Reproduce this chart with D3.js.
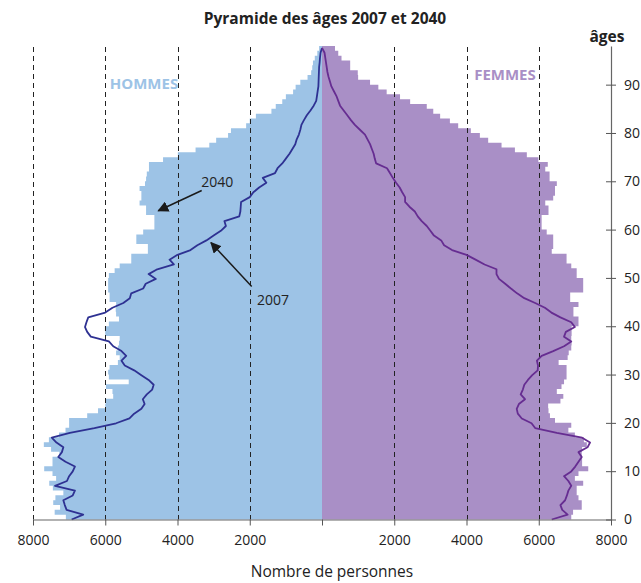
<!DOCTYPE html>
<html>
<head>
<meta charset="utf-8">
<script src="https://cdn.jsdelivr.net/npm/d3@7"></script>
<style>
    body { margin: 0; background: #fff; }
    text { font-family: "Open Sans", "DejaVu Sans", sans-serif; }
</style>
</head>
<body>
<div id="graph"></div>
<script>
// DATA (one value per age, from 0 upwards)
var hommes2040 = [7090, 7400, 7250, 7440, 7380, 7160, 7450, 7550, 7360, 7460,
    7690, 7460, 7460, 7270, 7500, 7700, 7560, 7280, 7100, 7000,
    7000, 6500, 6200, 6000, 5980, 5780, 5800, 5980, 5350, 5900,
    5920, 5880, 5650, 5600, 5700, 5650, 5620, 5600, 6000, 6010,
    5900, 5620, 5700, 5710, 5700, 5880, 5880, 5920, 5920, 5920,
    5900, 5740, 5600, 5280, 5280, 4820, 4820, 5140, 5140, 4950,
    4640, 4640, 4640, 4870, 4870, 5050, 5000, 5000, 5050, 4900,
    4870, 4850, 4790, 4790, 4400, 3990, 3500, 3120, 2930, 2600,
    2520, 2100, 2000, 1830, 1400, 1280, 1100, 1000, 800, 730,
    600, 400, 300, 270, 250, 200, 130, 80];

var femmes2040 = [6900, 6950, 7190, 7190, 7100, 7050, 7050, 7230, 7000, 7100,
    7370, 7200, 7200, 7190, 7200, 7330, 7250, 7000, 6820, 6900,
    6450, 6310, 6270, 6260, 6600, 6680, 6500, 6630, 6700, 6770,
    6770, 6770, 6550, 6800, 6830, 6900, 6910, 6900, 6910, 6910,
    7100, 7100, 6960, 6960, 7100, 6870, 6870, 7230, 7230, 7230,
    7050, 7050, 6900, 6770, 6770, 6360, 6400, 6400, 6400, 6220,
    6080, 6080, 6080, 6270, 6270, 6180, 6400, 6450, 6450, 6500,
    6300, 6300, 6180, 6250, 5990, 5670, 5340, 4970, 4600, 4370,
    4120, 3770, 3540, 3270, 3080, 2900, 2440, 2160, 1790, 1560,
    1330, 1000, 990, 780, 780, 540, 450, 360];

var hommes2007 = [6930, 6610, 7070, 7120, 7160, 6900, 6840, 7390, 7060, 7000,
    6900, 6840, 7100, 7300, 7200, 7160, 7350, 7480, 6980, 6300,
    5700, 5330, 5200, 5000, 4910, 4960, 4850, 4700, 4660, 4800,
    5000, 5200, 5460, 5550, 5420, 5550, 5780, 5900, 6400, 6500,
    6560, 6520, 6470, 6000, 5800, 5500, 5320, 5280, 4950, 4880,
    4600, 4800, 4560, 4100, 4220, 4000, 3640, 3450, 3200, 3000,
    2800, 2660, 2700, 2290, 2260, 2250, 2240, 2000, 1900, 1740,
    1540, 1640, 1300, 1230, 1100, 1000, 900, 820, 740, 700,
    640, 600, 570, 500, 420, 320, 230, 160, 140, 120,
    100, 95, 90, 85, 80, 65, 55, 40, 0];

var femmes2007 = [6360, 6800, 6650, 6600, 6730, 6780, 6820, 6900, 6820, 6700,
    6900, 7010, 7100, 7190, 7100, 7350, 7420, 7200, 6500, 5900,
    5800, 5530, 5420, 5390, 5450, 5620, 5500, 5560, 5600, 5700,
    5820, 5970, 5980, 5950, 6080, 6400, 6700, 6900, 6700, 6750,
    7000, 6900, 6600, 6350, 6170, 5900, 5600, 5400, 5230, 5070,
    4900, 4830, 4830, 4500, 4250, 4000, 3600, 3380, 3300, 3100,
    3000, 2900, 2760, 2650, 2570, 2420, 2300, 2300, 2220, 2150,
    2050, 1960, 1880, 1800, 1500, 1460, 1430, 1380, 1330, 1260,
    1190, 1050, 910, 800, 700, 600, 500, 450, 400, 330,
    260, 220, 180, 150, 130, 110, 90, 70, 0];

var xTicks = [-8000, -6000, -4000, -2000, 0, 2000, 4000, 6000, 8000];
var gridValues = [-8000, -6000, -4000, -2000, 2000, 4000, 6000, 8000];
var ageTicks = [0, 10, 20, 30, 40, 50, 60, 70, 80, 90];
var maxAge = 98;

var notes = [
    { text: "2040", tx: -2900, ty: 68.8, x1: -3330, y1: 68.1, x2: -4531, y2: 63.9 },
    { text: "2007", tx: -1356, ty: 44.4, x1: -1946, y1: 48.2, x2: -3073, y2: 57.3 }
];


// SVG
var svgWidth = 641;
var svgHeight = 583;

var svg = d3.select("#graph")
    .append("svg")
    .attr("width", svgWidth)
    .attr("height", svgHeight);

// signed scale: men are negative (left), women positive (right)
var x = d3.scaleLinear()
    .domain([-8000, 8000])
    .range([33, 611]);

var y = d3.scaleLinear()
    .domain([0, maxAge])
    .range([519.5, 46]);

var blue = "#9dc3e6";
var purple = "#a98fc6";


// FILLED PYRAMID (2040)
function stepArea(values, sign) {
    var pts = values.map(function(v, i) { return { age: i, v: v }; });
    pts.push({ age: values.length, v: values[values.length - 1] });
    return d3.area()
        .curve(d3.curveStepBefore)
        .y(d => y(d.age))
        .x0(x(0))
        .x1(d => x(sign * d.v))(pts);
}

svg.append("path")
    .attr("fill", blue)
    .attr("d", stepArea(hommes2040, -1));

svg.append("path")
    .attr("fill", purple)
    .attr("d", stepArea(femmes2040, 1));


// DASHED GRID
svg.append("g")
    .selectAll("line")
    .data(gridValues)
    .enter()
    .append("line")
    .attr("x1", d => Math.round(x(d)) + 0.5)
    .attr("x2", d => Math.round(x(d)) + 0.5)
    .attr("y1", y(maxAge) + 1)
    .attr("y2", y(0))
    .attr("stroke", "#222")
    .attr("stroke-width", 1)
    .attr("stroke-dasharray", "5,4");


// LINES (2007)
function ageLine(sign) {
    return d3.line()
        .x(d => x(sign * d))
        .y((d, i) => y(i * (maxAge - 0.4) / maxAge));
}

svg.append("path")
    .datum(hommes2007)
    .attr("fill", "none")
    .attr("stroke", "#2e3192")
    .attr("stroke-width", 1.8)
    .attr("stroke-linejoin", "round")
    .attr("d", ageLine(-1));

svg.append("path")
    .datum(femmes2007)
    .attr("fill", "none")
    .attr("stroke", "#662d91")
    .attr("stroke-width", 1.8)
    .attr("stroke-linejoin", "round")
    .attr("d", ageLine(1));


// AXES
var xAxis = svg.append("g")
    .attr("transform", "translate(0," + y(0) + ")")
    .call(d3.axisBottom(x)
        .tickValues(xTicks)
        .tickSize(6)
        .tickSizeOuter(0)
        .tickPadding(10)
        .tickFormat(d => d === 0 ? "" : Math.abs(d)));
xAxis.select(".domain").attr("stroke", "#666").attr("stroke-width", 1.2);
xAxis.selectAll(".tick line").attr("stroke", "#555");
xAxis.selectAll("text")
    .attr("font-size", 14)
    .attr("fill", "#222");

var yAxis = svg.append("g")
    .attr("transform", "translate(611,0)")
    .call(d3.axisRight(y)
        .tickValues(ageTicks)
        .tickSizeOuter(0)
        .tickPadding(7));
yAxis.select(".domain").attr("stroke", "#666").attr("stroke-width", 1.2);
yAxis.selectAll(".tick line")
    .attr("x1", -5)
    .attr("x2", 5)
    .attr("stroke", "#555");
yAxis.selectAll("text")
    .attr("font-size", 14)
    .attr("fill", "#222");


// LABELS
svg.append("text")
    .attr("x", x(0) + 3)
    .attr("y", 24)
    .attr("text-anchor", "middle")
    .attr("font-size", 15.5)
    .attr("font-weight", "bold")
    .attr("fill", "#222")
    .text("Pyramide des âges 2007 et 2040");

svg.append("text")
    .attr("x", 607)
    .attr("y", 42)
    .attr("text-anchor", "middle")
    .attr("font-size", 15.5)
    .attr("font-weight", "bold")
    .attr("fill", "#222")
    .text("âges");

svg.append("text")
    .attr("x", x(0) + 10)
    .attr("y", 577)
    .attr("text-anchor", "middle")
    .attr("font-size", 15.5)
    .attr("fill", "#222")
    .text("Nombre de personnes");

svg.append("text")
    .attr("x", x(-4928))
    .attr("y", y(89.1))
    .attr("text-anchor", "middle")
    .attr("font-size", 15)
    .attr("font-weight", "bold")
    .attr("fill", blue)
    .text("HOMMES");

svg.append("text")
    .attr("x", x(5066))
    .attr("y", y(91))
    .attr("text-anchor", "middle")
    .attr("font-size", 15)
    .attr("font-weight", "bold")
    .attr("fill", purple)
    .text("FEMMES");


// ARROWS
svg.append("defs")
    .append("marker")
    .attr("id", "head")
    .attr("viewBox", "0 0 10 10")
    .attr("refX", 9)
    .attr("refY", 5)
    .attr("markerWidth", 11)
    .attr("markerHeight", 11)
    .attr("markerUnits", "userSpaceOnUse")
    .attr("orient", "auto")
    .append("path")
    .attr("d", "M0,0 L10,5 L0,10 z")
    .attr("fill", "#1a1a1a");

var note = svg.append("g")
    .selectAll("g")
    .data(notes)
    .enter()
    .append("g");

note.append("line")
    .attr("x1", d => x(d.x1))
    .attr("y1", d => y(d.y1))
    .attr("x2", d => x(d.x2))
    .attr("y2", d => y(d.y2))
    .attr("stroke", "#1a1a1a")
    .attr("stroke-width", 1.5)
    .attr("marker-end", "url(#head)");

note.append("text")
    .attr("x", d => x(d.tx))
    .attr("y", d => y(d.ty))
    .attr("text-anchor", "middle")
    .attr("font-size", 14)
    .attr("fill", "#222")
    .text(d => d.text);
</script>
</body>
</html>
